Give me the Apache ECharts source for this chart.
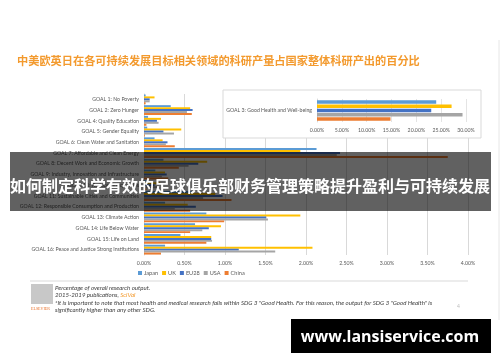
<!DOCTYPE html>
<html><head><meta charset="utf-8">
<script src="https://cdn.jsdelivr.net/npm/echarts@6/dist/echarts.min.js"></script>
<style>html,body{margin:0;padding:0;background:#fff}#c{width:500px;height:362px}</style>
</head><body><div id="c"></div>
<script>
const categories = ['GOAL 1: No Poverty','GOAL 2: Zero Hunger','GOAL 4: Quality Education','GOAL 5: Gender Equality','GOAL 6: Clean Water and Sanitation','GOAL 7: Affordable and Clean Energy','GOAL 8: Decent Work and Economic Growth','GOAL 9: Industry, Innovation and Infrastructure','GOAL 10: Reduced Inequalities','GOAL 11: Sustainable Cities and Communities','GOAL 12: Responsible Consumption and Production','GOAL 13: Climate Action','GOAL 14: Life Below Water','GOAL 15: Life on Land','GOAL 16: Peace and Justice Strong Institutions'];
const countries = ['Japan','UK','EU28','USA','China'];
const japan = [0.02,0.33,0.05,0.04,0.13,2.13,0.24,0.14,0.04,0.60,0.26,0.77,0.63,0.45,0.26];
const uk    = [0.13,0.57,0.21,0.46,0.23,1.93,0.78,0.26,0.20,0.88,0.54,1.93,0.95,0.83,2.08];
const eu28  = [0.07,0.60,0.16,0.24,0.29,2.42,0.67,0.28,0.13,0.97,0.64,1.51,0.80,0.83,1.17];
const usa   = [0.07,0.53,0.18,0.37,0.27,2.38,0.55,0.22,0.17,0.73,0.38,1.53,0.72,0.84,1.62];
const china = [0.02,0.59,0.03,0.01,0.38,3.75,0.43,0.30,0.03,1.08,0.57,0.99,0.57,0.77,0.21];
const insetCategory = ['GOAL 3: Good Health and Well-being'];
const goal3 = [24.0, 27.1, 23.0, 29.3, 14.8]; // Japan, UK, EU28, USA, China
const mainTicks = {min:0, max:4, interval:0.5};
const insetTicks = {min:0, max:30, interval:5};
const titleText = '中美欧英日在各可持续发展目标相关领域的科研产量占国家整体科研产出的百分比';
const bannerText = '如何制定科学有效的足球俱乐部财务管理策略提升盈利与可持续发展';
const footerLines = ['Percentage of overall research output.','2015-2019 publications, ','*It is important to note that most health and medical research falls within SDG 3 "Good Health. For this reason, the output for SDG 3 "Good Health" is','significantly higher than any other SDG.'];
const watermark = 'www.lansiservice.com';

const colors = ['#5b9bd5','#ffc000','#4472c4','#a5a5a5','#ed7d31'];
const mainData = [japan, uk, eu28, usa, china];
const fontEn = 'Lato, "Open Sans", sans-serif';

const chart = echarts.init(document.getElementById('c'), null, {renderer:'canvas'});
const series = [];
countries.forEach((name, i) => {
  series.push({name, type:'bar', xAxisIndex:0, yAxisIndex:0, data:mainData[i],
    itemStyle:{color:colors[i]}, barGap:'0%', barCategoryGap:'8%', silent:true, animation:false});
});
countries.forEach((name, i) => {
  series.push({name, type:'bar', xAxisIndex:1, yAxisIndex:1, data:[goal3[i]], z:5,
    itemStyle:{color:colors[i]}, barGap:'15%', barCategoryGap:'10%', silent:true, animation:false});
});
const axisLabelStyle = {fontSize:5.2, color:'#595959', fontFamily:fontEn};
const footFont = 'italic 6.1px ' + fontEn;
chart.setOption({
  animation:false,
  color:colors,
  grid:[
    {left:144, width:324, top:94, height:161},
    {left:317, width:149, top:99, height:23}
  ],
  xAxis:[
    {type:'value', gridIndex:0, min:mainTicks.min, max:mainTicks.max, interval:mainTicks.interval,
     axisLine:{show:false}, axisTick:{show:false},
     splitLine:{lineStyle:{color:'#d9d9d9', width:1}},
     axisLabel:Object.assign({}, axisLabelStyle, {margin:6, formatter:v=>v.toFixed(2)+'%'})},
    {type:'value', gridIndex:1, min:insetTicks.min, max:insetTicks.max, interval:insetTicks.interval, z:5,
     axisLine:{show:false}, axisTick:{show:false},
     splitLine:{lineStyle:{color:'#e4e4e4', width:1}},
     axisLabel:Object.assign({}, axisLabelStyle, {margin:6, formatter:v=>v.toFixed(2)+'%'})}
  ],
  yAxis:[
    {type:'category', gridIndex:0, data:categories, inverse:true,
     axisLine:{show:true, lineStyle:{color:'#d9d9d9'}}, axisTick:{show:false},
     axisLabel:Object.assign({}, axisLabelStyle, {margin:5})},
    {type:'category', gridIndex:1, data:insetCategory, inverse:true, z:5,
     axisLine:{show:true, lineStyle:{color:'#d9d9d9'}}, axisTick:{show:false},
     axisLabel:Object.assign({}, axisLabelStyle, {margin:5})}
  ],
  legend:{data:countries, left:138, top:270, padding:0, itemWidth:4, itemHeight:4, itemGap:4, icon:'rect',
    textStyle:{fontSize:5.6, color:'#595959', fontFamily:fontEn, padding:[0,0,0,-3]}},
  series,
  graphic:[
    {type:'text', x:17, y:61, z:10, style:{text:titleText, fill:'#f39a2e', font:'bold 11.2px "Noto Sans CJK SC"', textVerticalAlign:'middle'}},
    {type:'rect', z:1, shape:{x:223, y:90, width:258, height:48}, style:{fill:'#ffffff', stroke:'#d9d9d9', lineWidth:1}},
    {type:'rect', z:100, shape:{x:10, y:152, width:481, height:59}, style:{fill:'rgba(0,0,0,0.62)'}},
    {type:'text', x:250, y:186, z:101, style:{text:bannerText, fill:'#ffffff', font:'bold 16px "Noto Sans CJK SC"', textAlign:'center', textVerticalAlign:'middle'}},
    {type:'line', z:10, shape:{x1:30, y1:281, x2:468, y2:281}, style:{stroke:'#d9d9d9', lineWidth:1}},
    {type:'rect', z:10, shape:{x:31, y:284, width:22, height:20}, style:{fill:'#c8c8c8'}},
    {type:'text', x:31, y:309, z:10, style:{text:'ELSEVIER', fill:'#e8702a', font:'4px "Liberation Serif"', textVerticalAlign:'middle'}},
    {type:'text', x:55, y:288, z:10, style:{text:footerLines[0], fill:'#404040', font:footFont, textVerticalAlign:'middle'}},
    {type:'text', x:55, y:295.5, z:10, style:{text:'{a|'+footerLines[1]+'}{b|SciVal}', textVerticalAlign:'middle',
      rich:{a:{fill:'#404040', font:footFont}, b:{fill:'#f39a2e', font:footFont}}}},
    {type:'text', x:55, y:303, z:10, style:{text:footerLines[2], fill:'#404040', font:footFont, textVerticalAlign:'middle'}},
    {type:'text', x:55, y:310, z:10, style:{text:footerLines[3], fill:'#404040', font:footFont, textVerticalAlign:'middle'}},
    {type:'text', x:457, y:306, z:10, style:{text:'4', fill:'#bbbbbb', font:'5px '+fontEn, textVerticalAlign:'middle'}},
    {type:'line', z:10, shape:{x1:499, y1:40, x2:499, y2:320}, style:{stroke:'#e6e6e6', lineWidth:1}},
    {type:'rect', z:110, shape:{x:291, y:319, width:200, height:34}, style:{fill:'#000000'}},
    {type:'text', x:390, y:337, z:111, style:{text:watermark, fill:'#ffffff', font:'bold 16px "Open Sans"', textAlign:'center', textVerticalAlign:'middle'}}
  ]
});
</script></body></html>
